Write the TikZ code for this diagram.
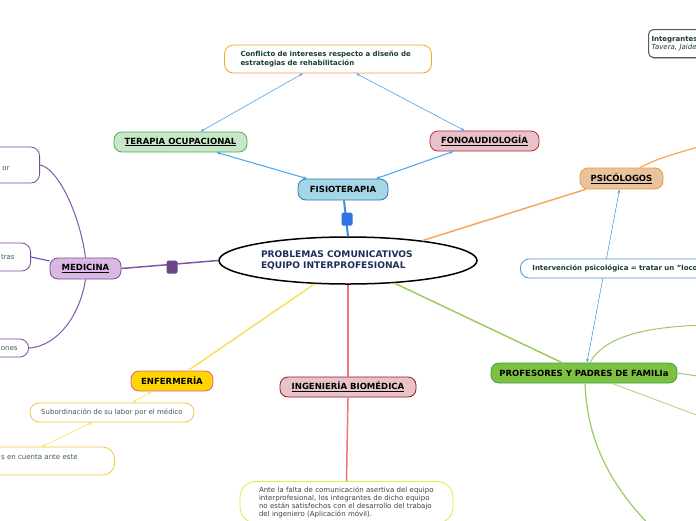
\documentclass[tikz,border=0pt]{standalone}
\usepackage{fontspec}
\setmainfont{DejaVu Sans}
\usetikzlibrary{positioning,shapes.geometric,arrows.meta,shadows}

\definecolor{ink}{HTML}{1B3D2F}
\definecolor{slate}{HTML}{3A5A55}
\definecolor{navy}{HTML}{1F2F5C}
\definecolor{arrowblue}{HTML}{4BA3EE}
\definecolor{toFill}{HTML}{C8E6C9}   \definecolor{toDraw}{HTML}{4CAF50}
\definecolor{fonoFill}{HTML}{E6C3C9} \definecolor{fonoDraw}{HTML}{C2263F}
\definecolor{fisioFill}{HTML}{A5D6E6}\definecolor{fisioDraw}{HTML}{2B7BB0}
\definecolor{medFill}{HTML}{D9B9E3}  \definecolor{medDraw}{HTML}{7B4A9A}
\definecolor{psiFill}{HTML}{E9C39D}  \definecolor{psiDraw}{HTML}{F29B38}
\definecolor{profFill}{HTML}{7DC142} \definecolor{profDraw}{HTML}{38A045}
\definecolor{enfFill}{HTML}{FFD600}  \definecolor{enfDraw}{HTML}{E9559B}
\definecolor{ingFill}{HTML}{E8C4C9}  \definecolor{ingDraw}{HTML}{8E1B22}
\definecolor{confline}{HTML}{F5A623}
\definecolor{subline}{HTML}{F6C445}
\definecolor{lowline}{HTML}{DDEF3C}
\definecolor{intline}{HTML}{4A90D9}
\definecolor{fisioline}{HTML}{3A8FE0}
\definecolor{medline}{HTML}{8355A8}
\definecolor{psiline}{HTML}{F5A85A}
\definecolor{profline}{HTML}{9CCB62}
\definecolor{enfline}{HTML}{F8E15A}
\definecolor{ingline}{HTML}{F07478}

\begin{document}
\begin{tikzpicture}[x = 1pt, y = -1pt,
    every node/.style = { align = center, font = \bfseries\fontsize{8.5}{10}\selectfont },
    topic/.style = { draw, rounded corners = 8pt, line width = .8pt, inner sep = 0pt, minimum height = 20pt },
    note/.style = { draw, rounded corners = 9pt, fill = white, line width = .8pt, text = slate,
                    font = \fontsize{7}{8.4}\selectfont },
    marker/.style = { rectangle, rounded corners = 1.5pt, minimum width = 11pt, minimum height = 13pt, inner sep = 0pt },
    both/.style = { {Stealth[length=4pt,width=3pt]}-{Stealth[length=4pt,width=3pt]}, line width = .6pt }
  ]
    \fill[white] (0,0) rectangle (696,520);
    \useasboundingbox (0,0) rectangle (696,520);

    % centre
    \node [ellipse, draw, line width = 1.5pt, fill = white, minimum width = 258pt, minimum height = 47pt,
           text = navy, text width = 174pt, align = left, inner sep = 0pt,
           font = \bfseries\fontsize{9.1}{11}\selectfont] (core) at (348,260.5)
          {PROBLEMAS COMUNICATIVOS\\EQUIPO INTERPROFESIONAL};

    % top group
    \node [note, draw = confline, text = ink, text width = 175pt, inner xsep = 16pt, minimum height = 28pt,
           align = left, font = \bfseries\fontsize{7}{9}\selectfont] (conf) at (328,59)
          {Conflicto de intereses respecto a diseño de\\estrategias de rehabilitación};
    \node [topic, fill = toFill, draw = toDraw, minimum width = 133pt] (terapia) at (180.5,142) {\underline{TERAPIA OCUPACIONAL}};
    \node [topic, fill = fonoFill, draw = fonoDraw, minimum width = 109pt] (fono) at (484.5,141) {\underline{FONOAUDIOLOGÍA}};
    \node [topic, fill = fisioFill, draw = fisioDraw, minimum width = 90pt, minimum height = 21pt] (fisio) at (343,189.5) {FISIOTERAPIA};

    \draw [both, arrowblue] ([xshift=-25pt]conf.south) -- ([xshift=20pt]terapia.north);
    \draw [both, arrowblue] ([xshift=28pt]conf.south) -- ([xshift=-20pt]fono.north);
    \draw [both, arrowblue, line width = 1pt] ([xshift=36pt]terapia.south) -- ([xshift=-36pt]fisio.north);
    \draw [both, arrowblue, line width = 1pt] ([xshift=-31pt]fono.south) -- ([xshift=33pt]fisio.north);
    \draw [fisioline, line width = 2pt] ([xshift=1pt]fisio.south) -- (core.north);
    \node [marker, fill = fisioline!80!blue] (fisiosq) at (347,219) {};

    % medicina
    \node [topic, fill = medFill, draw = medDraw, minimum width = 71pt, minimum height = 21pt] (med) at (85.5,268.5) {\underline{MEDICINA}};
    \node [note, draw = medDraw, anchor = east, minimum height = 36pt, text width = 140pt,
           align = right, inner xsep = 30pt] (med1) at (40,165) {\mbox{}\\[3pt]or};
    \node [note, draw = medDraw, anchor = east, minimum height = 28pt, text width = 140pt,
           align = right, inner xsep = 16pt] (med2) at (31,257) {tras};
    \node [note, draw = medDraw, anchor = east, minimum height = 18pt, text width = 140pt,
           align = right, inner xsep = 11pt] (med3) at (29,348) {iones};

    \draw [medline, line width = 1.5pt] (core.west) -- (med.east);
    \node [marker, fill = medline!80!black] (medsq) at (172,267) {};
    \draw [medline, line width = 1pt] (med.north) .. controls (80,215) and (58,168) .. (med1.east);
    \draw [medline!70!blue, line width = 1pt] (med2.east) -- (med);
    \draw [medline, line width = 1pt] (med.south) .. controls (80,315) and (58,346) .. (med3.east);

    % psicologos
    \node [topic, fill = psiFill, draw = psiDraw, minimum width = 83pt, minimum height = 21pt] (psi) at (621.5,178.5) {\underline{PSICÓLOGOS}};
    \node [note, draw = black!65, text = ink, anchor = north west, minimum height = 28pt, text width = 100pt,
           align = left, inner xsep = 3pt, rounded corners = 5pt, line width = 1pt,
           drop shadow = {opacity = .45, shadow xshift = 1pt, shadow yshift = -1.5pt}] (team) at (648,29)
          {\textbf{Integrantes}\\\textit{Tavera, Jaide}};
    \coordinate (psiout) at (705,145);
    \draw [psiline, line width = 1.5pt] (core.15) -- ([xshift=6pt]psi.south west);
    \draw [psiline, line width = 1.2pt] ([xshift=18pt]psi.north) .. controls (660,158) .. (psiout);

    % profesores
    \node [topic, fill = profFill, draw = profDraw, minimum width = 186pt] (prof) at (584,373) {PROFESORES Y PADRES DE FAMILIa};
    \draw [both, arrowblue] ([xshift=-2pt]psi.south) -- ([xshift=3pt]prof.north);
    \node [note, draw = intline, text = ink, anchor = west, minimum height = 19pt, text width = 230pt,
           align = left, inner xsep = 12pt, font = \bfseries\fontsize{7}{8.5}\selectfont] (interv) at (520,268.5)
          {Intervención psicológica = tratar un "loco"};
    \coordinate (profa) at (710,325);
    \coordinate (profb) at (710,378);
    \coordinate (profc) at (710,420);
    \coordinate (profd) at (665,540);
    \draw [profline, line width = 1.5pt] (core.-26) -- ([xshift=-22pt]prof.north);
    \draw [profline, line width = 1pt] ([xshift=6pt]prof.north) .. controls (605,335) and (650,326) .. (profa);
    \draw [profline, line width = 1pt] (prof.east) -- (profb);
    \draw [profline!80!white, line width = .9pt] ([xshift=28pt]prof.south) -- (profc);
    \draw [profline, line width = 1.2pt] ([xshift=1pt]prof.south) .. controls (587,440) and (610,490) .. (profd);

    % enfermeria
    \node [topic, fill = enfFill, draw = enfDraw, minimum width = 82pt] (enf) at (172,381) {ENFERMERÍA};
    \node [note, draw = subline, minimum width = 164pt, minimum height = 19pt] (sub) at (112,412.5)
          {Subordinación de su labor por el médico};
    \node [note, draw = subline, anchor = east, minimum height = 28pt, text width = 140pt,
           align = right, inner xsep = 37pt, rounded corners = 12pt] (nurse) at (115,461) {s en cuenta ante este\\\mbox{}};
    \draw [enfline, line width = 1.5pt] (core.215) -- ([xshift=16pt]enf.north);
    \draw [both, enfline] ([xshift=-20pt]enf.south) -- ([xshift=20pt]sub.north);
    \draw [both, enfline] ([xshift=-20pt]sub.south) -- ([xshift=-73pt]nurse.north east);

    % ingenieria
    \node [topic, fill = ingFill, draw = ingDraw, minimum width = 136pt] (ing) at (348,387) {\underline{INGENIERÍA BIOMÉDICA}};
    \node [note, draw = lowline, anchor = north, text width = 175pt, inner xsep = 19pt, inner ysep = 5pt,
           align = left, rounded corners = 16pt, text = black!75,
           font = \fontsize{7}{8.2}\selectfont] (ingnote) at (346.5,481)
          {Ante la falta de comunicación asertiva del equipo\\interprofesional, los integrantes de dicho equipo\\no están satisfechos con el desarrollo del trabajo\\del ingeniero (Aplicación móvil).};
    \draw [ingline, line width = 1.5pt] (core.south) -- (ing.north);
    \draw [ingline, line width = 1.5pt] (ing.south) -- (ingnote.north);

\end{tikzpicture}
\end{document}
